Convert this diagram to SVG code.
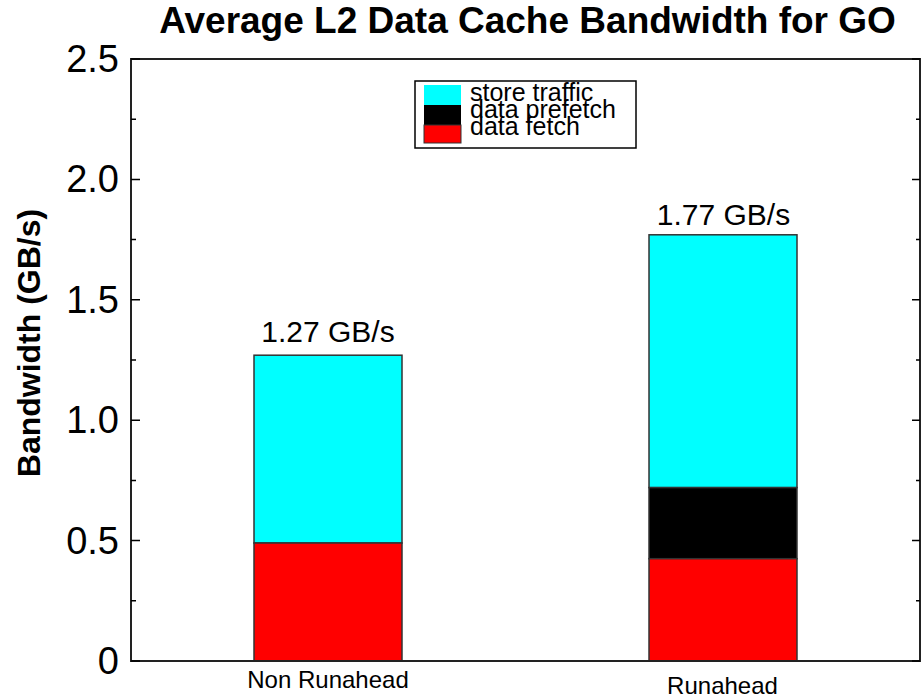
<svg xmlns="http://www.w3.org/2000/svg" width="921" height="700" viewBox="0 0 921 700">
<style>
text{font-family:"Liberation Sans",Arial,sans-serif;fill:#000}
.tick{stroke:#000;stroke-width:1.5}
.bar{stroke:#333;stroke-width:1.5}
.yl{font-size:38px;text-anchor:end}
.lg{font-size:25px}
</style>
<rect width="921" height="700" fill="#fff"/>
<text x="527.5" y="33" font-size="37" font-weight="bold" text-anchor="middle">Average L2 Data Cache Bandwidth for GO</text>
<g id="bars">
<g id="bar-nonrunahead">
<rect class="bar" x="254" y="355.2" width="148" height="187.8" fill="#00ffff"/>
<rect class="bar" x="254" y="543" width="148" height="118" fill="#ff0000"/>
<text x="328" y="342" font-size="30" text-anchor="middle">1.27 GB/s</text>
</g>
<g id="bar-runahead">
<rect class="bar" x="649" y="234.8" width="148" height="252.8" fill="#00ffff"/>
<rect class="bar" x="649" y="487.6" width="148" height="71.1" fill="#000000"/>
<rect class="bar" x="649" y="558.7" width="148" height="102.3" fill="#ff0000"/>
<text x="723.5" y="225" font-size="30" text-anchor="middle">1.77 GB/s</text>
</g>
</g>
<g id="axes">
<rect x="131" y="59" width="789" height="602" fill="none" stroke="#222" stroke-width="2"/>
<g class="tick">
<path d="M131 661H140M131 540.6H140M131 420.2H140M131 299.8H140M131 179.4H140M131 59H140"/>
<path d="M131 600.8H136M131 480.4H136M131 360H136M131 239.6H136M131 119.2H136"/>
<path d="M920 661H912M920 540.6H912M920 420.2H912M920 299.8H912M920 179.4H912M920 59H912"/>
<path d="M920 600.8H916M920 480.4H916M920 360H916M920 239.6H916M920 119.2H916"/>
</g>
<text class="yl" x="119" y="674">0</text>
<text class="yl" x="119" y="554">0.5</text>
<text class="yl" x="119" y="433">1.0</text>
<text class="yl" x="119" y="313">1.5</text>
<text class="yl" x="119" y="192">2.0</text>
<text class="yl" x="119" y="72">2.5</text>
<text transform="translate(40,343) rotate(-90)" font-size="32" font-weight="bold" text-anchor="middle">Bandwidth (GB/s)</text>
<text x="328" y="688" font-size="24" text-anchor="middle">Non Runahead</text>
<text x="722.5" y="694" font-size="24" text-anchor="middle">Runahead</text>
</g>
<g id="legend">
<rect x="415" y="81" width="221" height="67" fill="#fff" stroke="#000" stroke-width="1.5"/>
<rect x="424" y="85" width="37" height="20" fill="#00ffff"/>
<rect x="424" y="105" width="37" height="20" fill="#000"/>
<rect x="424" y="125" width="37" height="18" fill="#ff0000" stroke="#333" stroke-width="1"/>
<text class="lg" x="470" y="101">store traffic</text>
<text class="lg" x="470" y="118">data prefetch</text>
<text class="lg" x="470" y="135">data fetch</text>
</g>
</svg>
